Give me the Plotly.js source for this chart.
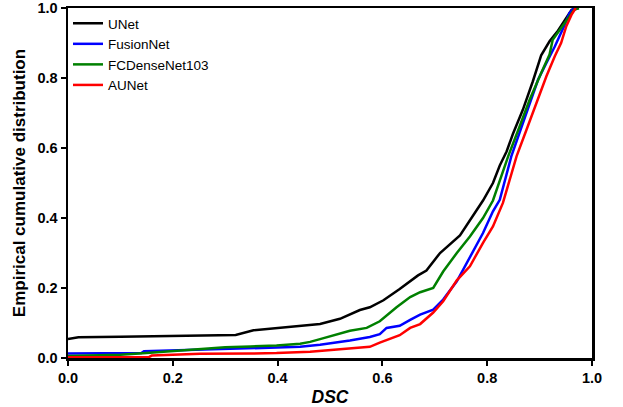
<!DOCTYPE html>
<html>
<head>
<meta charset="utf-8">
<script src="https://cdn.plot.ly/plotly-3.0.1.min.js"></script>
<style>html,body{margin:0;padding:0;background:#fff;}#chart{width:623px;height:407px;}</style>
</head>
<body>
<div id="chart"></div>
<script>
const seriesNames = ["UNet", "FusionNet", "FCDenseNet103", "AUNet"];
const seriesColors = ["#000000", "#0000ff", "#008000", "#ff0000"];

const unetX = [0.0, 0.02, 0.1, 0.2, 0.3, 0.32, 0.354, 0.398, 0.443, 0.481, 0.519, 0.538, 0.557, 0.576, 0.602, 0.633, 0.668, 0.684, 0.71, 0.748, 0.773, 0.792, 0.811, 0.824, 0.837, 0.849, 0.868, 0.887, 0.903, 0.919, 0.935, 0.948, 0.961, 0.975];
const unetY = [0.054, 0.059, 0.061, 0.063, 0.064, 0.066, 0.079, 0.085, 0.090, 0.097, 0.112, 0.124, 0.137, 0.145, 0.165, 0.197, 0.236, 0.25, 0.3, 0.35, 0.405, 0.45, 0.5, 0.55, 0.59, 0.64, 0.709, 0.79, 0.865, 0.905, 0.935, 0.967, 0.995, 1.0];

const fusionX = [0.0, 0.14, 0.145, 0.252, 0.35, 0.398, 0.443, 0.481, 0.519, 0.538, 0.576, 0.595, 0.608, 0.633, 0.653, 0.672, 0.697, 0.716, 0.742, 0.767, 0.792, 0.811, 0.824, 0.846, 0.868, 0.897, 0.913, 0.929, 0.948, 0.957, 0.966];
const fusionY = [0.013, 0.014, 0.019, 0.024, 0.027, 0.030, 0.032, 0.038, 0.045, 0.05, 0.06, 0.068, 0.086, 0.092, 0.109, 0.124, 0.138, 0.167, 0.219, 0.286, 0.357, 0.419, 0.452, 0.576, 0.671, 0.795, 0.843, 0.89, 0.952, 0.986, 1.0];

const denseX = [0.0, 0.1, 0.15, 0.24, 0.3, 0.348, 0.398, 0.443, 0.462, 0.481, 0.519, 0.538, 0.57, 0.595, 0.627, 0.653, 0.672, 0.697, 0.716, 0.742, 0.767, 0.792, 0.811, 0.84, 0.862, 0.881, 0.903, 0.919, 0.925, 0.941, 0.956, 0.966, 0.975];
const denseY = [0.006, 0.009, 0.014, 0.025, 0.031, 0.033, 0.036, 0.041, 0.046, 0.054, 0.069, 0.078, 0.086, 0.105, 0.145, 0.174, 0.188, 0.2, 0.247, 0.3, 0.347, 0.4, 0.45, 0.576, 0.662, 0.738, 0.814, 0.867, 0.909, 0.943, 0.976, 0.995, 1.0];

const aunetX = [0.0, 0.155, 0.16, 0.252, 0.35, 0.398, 0.462, 0.481, 0.519, 0.557, 0.576, 0.595, 0.633, 0.653, 0.672, 0.697, 0.716, 0.742, 0.767, 0.792, 0.811, 0.83, 0.856, 0.875, 0.894, 0.913, 0.929, 0.941, 0.951, 0.961, 0.969];
const aunetY = [0.002, 0.003, 0.007, 0.012, 0.013, 0.014, 0.018, 0.020, 0.025, 0.03, 0.032, 0.044, 0.065, 0.086, 0.097, 0.13, 0.162, 0.222, 0.262, 0.329, 0.376, 0.443, 0.576, 0.652, 0.729, 0.805, 0.862, 0.9, 0.948, 0.981, 1.0];

const tickVals = [0, 0.2, 0.4, 0.6, 0.8, 1.0];
const tickText = ["0.0", "0.2", "0.4", "0.6", "0.8", "1.0"];

const xs = [unetX, fusionX, denseX, aunetX];
const ys = [unetY, fusionY, denseY, aunetY];

const traces = seriesNames.map((n, i) => ({
  x: xs[i], y: ys[i], name: n, type: "scatter", mode: "lines",
  line: {color: seriesColors[i], width: 2.5}
}));

const FONT = "Liberation Sans, Arial, sans-serif";
const axisCommon = {
  range: [0, 1], tickvals: tickVals, ticktext: tickText.map(t => "<b>" + t + "</b>"),
  showgrid: false, zeroline: false, showline: true, linecolor: "#000", linewidth: 2.5,
  mirror: true, ticks: "outside", ticklen: 5, tickwidth: 2, tickcolor: "#000",
  tickfont: {family: FONT, size: 14.5, color: "#000"}
};

const layout = {
  width: 623, height: 407,
  margin: {l: 68, r: 31, t: 8, b: 49},
  paper_bgcolor: "#fff", plot_bgcolor: "#fff",
  xaxis: Object.assign({}, axisCommon, {
    title: {text: "<b><i>DSC</i></b>", standoff: 6, font: {family: FONT, size: 17.5, color: "#000"}}
  }),
  yaxis: Object.assign({}, axisCommon, {
    title: {text: "<b>Empirical cumulative distribution</b>", standoff: 8, font: {family: FONT, size: 17, color: "#000"}}
  }),
  showlegend: true,
  legend: {
    x: 0.0, y: 1.0, xanchor: "left", yanchor: "top",
    bgcolor: "rgba(0,0,0,0)", borderwidth: 0,
    itemwidth: 30, tracegroupgap: 0,
    font: {family: FONT, size: 13.5, color: "#000"}
  }
};

Plotly.newPlot("chart", traces, layout, {displayModeBar: false, staticPlot: true});
</script>
</body>
</html>
